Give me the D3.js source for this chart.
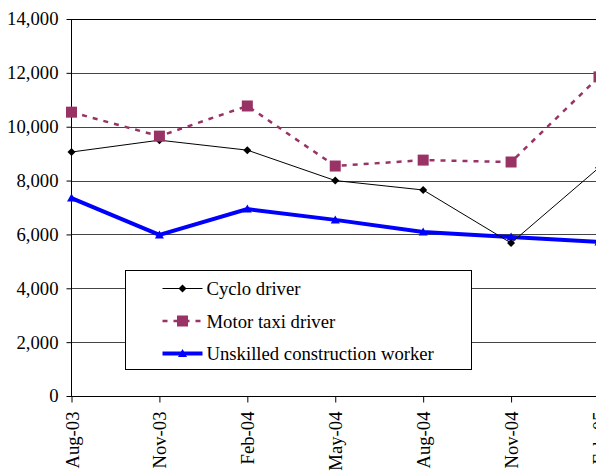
<!DOCTYPE html>
<html>
<head>
<meta charset="utf-8">
<script src="https://cdn.jsdelivr.net/npm/d3@7"></script>
<style>
  body { margin: 0; background: #fff; }
  svg { display: block; }
</style>
</head>
<body>
<div id="chart"></div>
<script>
// categories (quarterly survey rounds)
var months = ["Aug-03", "Nov-03", "Feb-04", "May-04", "Aug-04", "Nov-04", "Feb-05"];

// series values
var cyclo = [9060, 9500, 9130, 8000, 7650, 5680, 8480];
var motorTaxi = [10540, 9650, 10770, 8540, 8760, 8690, 11850];
var unskilled = [7350, 5980, 6940, 6540, 6090, 5900, 5720];

var yTicks = [0, 2000, 4000, 6000, 8000, 10000, 12000, 14000];

var series = [
  {name: "Cyclo driver", values: cyclo, color: "#000", width: 1, dash: null, marker: "diamond"},
  {name: "Motor taxi driver", values: motorTaxi, color: "#993366", width: 2.5, dash: "5,6", marker: "square"},
  {name: "Unskilled construction worker", values: unskilled, color: "#0000ff", width: 4, dash: null, marker: "triangle"}
];

var FONT = "'Liberation Serif', 'DejaVu Serif', serif";
var FS = "18.7px";

var W = 596, H = 473;
var margin = {top: 19, left: 71, bottom: 77};

var svg = d3.select("#chart").append("svg")
  .attr("width", W)
  .attr("height", H);

var x = d3.scalePoint()
  .domain(months)
  .range([margin.left + 0.5, 599]);

var y = d3.scaleLinear()
  .domain([0, 14000])
  .range([H - margin.bottom, margin.top]);

// gridlines
svg.append("g")
  .selectAll("line")
  .data(yTicks.slice(1))
  .enter().append("line")
  .attr("x1", margin.left)
  .attr("x2", W)
  .attr("y1", function(d) { return Math.round(y(d)) + 0.5; })
  .attr("y2", function(d) { return Math.round(y(d)) + 0.5; })
  .attr("stroke", function(d) { return d === 14000 ? "#000" : "#444"; })
  .attr("stroke-width", 1);

// y axis
var yAxis = svg.append("g")
  .attr("transform", "translate(" + (margin.left + 0.5) + ",0)")
  .call(d3.axisLeft(y).tickValues(yTicks).tickSize(5).tickPadding(8)
    .tickFormat(d3.format(",")));
yAxis.selectAll("text").style("font-family", FONT).style("font-size", FS).attr("fill", "#000");
yAxis.selectAll("line, path").attr("stroke", "#000");
yAxis.select(".domain").attr("d", "M0," + y(0) + "V" + y(14000));

// x axis
var xAxis = svg.append("g")
  .attr("transform", "translate(0," + (Math.round(y(0)) + 0.5) + ")")
  .call(d3.axisBottom(x).tickSize(6).tickSizeOuter(0));
xAxis.select(".domain").attr("d", "M" + margin.left + ",0H" + W);
xAxis.selectAll("line, path").attr("stroke", "#000");
xAxis.selectAll("text")
  .style("font-family", FONT)
  .style("font-size", FS)
  .attr("fill", "#000")
  .attr("transform", "rotate(-90)")
  .attr("text-anchor", "end")
  .attr("x", -15)
  .attr("y", 0)
  .attr("dy", "0.35em");

// lines
var line = d3.line()
  .x(function(d, i) { return x(months[i]); })
  .y(function(d) { return y(d); });

function drawMarker(g, type, color) {
  if (type === "diamond") {
    g.append("path").attr("d", "M0,-4L4,0L0,4L-4,0Z").attr("fill", color);
  } else if (type === "square") {
    g.append("rect").attr("x", -5.5).attr("y", -5.5).attr("width", 11).attr("height", 11).attr("fill", color);
  } else {
    g.append("path").attr("d", "M0,-4.5L4.5,3.5L-4.5,3.5Z").attr("fill", color);
  }
}

// draw back to front: unskilled, cyclo, motor taxi
[series[2], series[0], series[1]].forEach(function(s) {
  svg.append("path")
    .datum(s.values)
    .attr("d", line)
    .attr("fill", "none")
    .attr("stroke", s.color)
    .attr("stroke-width", s.width)
    .attr("stroke-dasharray", s.dash);

  svg.append("g").selectAll("g")
    .data(s.values)
    .enter().append("g")
    .attr("transform", function(d, i) { return "translate(" + x(months[i]) + "," + y(d) + ")"; })
    .each(function() { drawMarker(d3.select(this), s.marker, s.color); });
});

// legend
var legend = svg.append("g").attr("transform", "translate(125.5,270.5)");
legend.append("rect")
  .attr("width", 346)
  .attr("height", 99)
  .attr("fill", "#fff")
  .attr("stroke", "#000")
  .attr("stroke-width", 1);

var item = legend.selectAll(".item")
  .data(series)
  .enter().append("g")
  .attr("class", "item")
  .attr("transform", function(d, i) { return "translate(0," + (18 + i * 32.5) + ")"; });

item.append("line")
  .attr("x1", 37).attr("x2", 77)
  .attr("stroke", function(d) { return d.color; })
  .attr("stroke-width", function(d) { return d.width; })
  .attr("stroke-dasharray", function(d) { return d.dash; });

item.append("g")
  .attr("transform", "translate(57,0)")
  .each(function(d) { drawMarker(d3.select(this), d.marker, d.color); });

item.append("text")
  .attr("x", 81)
  .attr("dy", "0.35em")
  .style("font-family", FONT)
  .style("font-size", FS)
  .text(function(d) { return d.name; });
</script>
</body>
</html>
